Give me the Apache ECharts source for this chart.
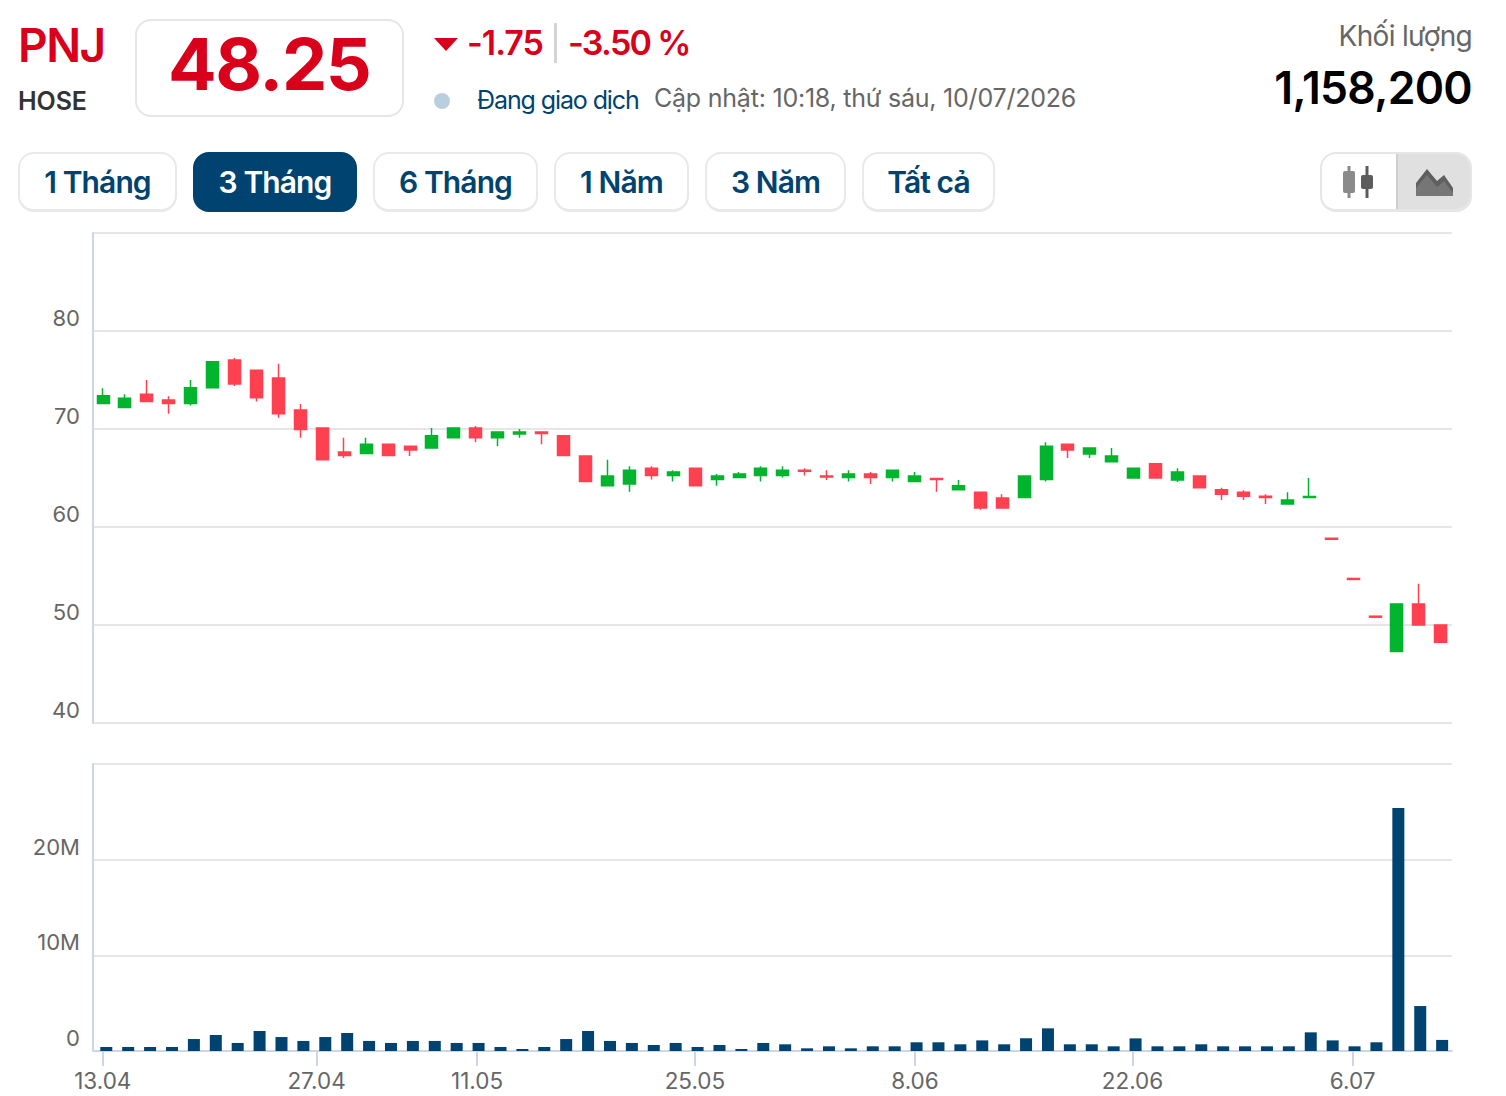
<!DOCTYPE html>
<html lang="vi">
<head>
<meta charset="utf-8">
<title>PNJ</title>
<script src="https://cdn.jsdelivr.net/npm/echarts@6/dist/echarts.min.js"></script>
<style>
  html, body { margin: 0; padding: 0; background: #fff; }
  #page { position: relative; width: 1506px; height: 1096px; overflow: hidden; font-family: Inter, "Noto Sans", sans-serif; }
  #chart { position: absolute; left: 0; top: 0; width: 1506px; height: 1096px; }
  .t { position: absolute; white-space: nowrap; line-height: 1; }
  .red { color: #d9001b; }
  .navy { color: #004370; }
  .box { position: absolute; box-sizing: border-box; border: 2px solid #e6e6e6; border-radius: 16px; background: #fff; }
  .btn { position: absolute; top: 152px; height: 60px; box-sizing: border-box; border: 2px solid #e9e9e9; border-bottom-width: 3px; border-radius: 16px;
         display: flex; align-items: center; justify-content: center; font-size: 30px; font-weight: 600; letter-spacing: -0.9px; color: #004370; background: #fff; }
  .btn.on { background: #004370; border-color: #004370; color: #fff; }
</style>
</head>
<body>
<div id="page">
  <div id="chart"></div>

  <div class="t red" style="left:18px;top:22px;font-size:46px;font-weight:600;letter-spacing:-1.5px">PNJ</div>
  <div class="t" style="left:18px;top:89px;font-size:25px;font-weight:600;letter-spacing:-0.1px;color:#333">HOSE</div>

  <div class="box" style="left:135px;top:19px;width:269px;height:98px"></div>
  <div class="t red" style="left:168px;top:28px;font-size:72px;font-weight:700;letter-spacing:-1.4px">48.25</div>

  <svg style="position:absolute;left:434px;top:38px" width="24" height="13"><path d="M0 0H24L12 13Z" fill="#d9001b"/></svg>
  <div class="t red" style="left:467px;top:26px;font-size:34px;font-weight:600;letter-spacing:-1px">-1.75</div>
  <div style="position:absolute;left:554px;top:23px;width:3px;height:40px;background:#d4d4d4"></div>
  <div class="t red" style="left:568px;top:26px;font-size:34px;font-weight:600;letter-spacing:-1.7px">-3.50 %</div>

  <div style="position:absolute;left:434px;top:93px;width:16px;height:16px;border-radius:50%;background:#b9cfdf"></div>
  <div class="t navy" style="left:477px;top:88px;font-size:25px;letter-spacing:-1.1px">Đang giao dịch</div>
  <div class="t" style="left:654px;top:86px;font-size:25px;letter-spacing:-0.22px;color:#666">Cập nhật: 10:18, thứ sáu, 10/07/2026</div>

  <div class="t" style="right:34px;top:22px;font-size:28px;letter-spacing:-0.7px;color:#666">Khối lượng</div>
  <div class="t" style="right:34px;top:66px;font-size:44.5px;font-weight:600;letter-spacing:-0.7px;color:#000">1,158,200</div>

  <div class="btn" style="left:18px;width:159px">1 Tháng</div>
  <div class="btn on" style="left:193px;width:164px">3 Tháng</div>
  <div class="btn" style="left:373px;width:165px">6 Tháng</div>
  <div class="btn" style="left:554px;width:135px">1 Năm</div>
  <div class="btn" style="left:705px;width:141px">3 Năm</div>
  <div class="btn" style="left:862px;width:133px">Tất cả</div>

  <div class="box" style="left:1320px;top:152px;width:152px;height:60px;border-bottom-width:3px;overflow:hidden">
    <div style="position:absolute;left:74px;top:-2px;width:78px;height:64px;background:#e0e0e0;border-left:2px solid #cfcfcf"></div>
    <svg style="position:absolute;left:19px;top:12px" width="34" height="32">
      <rect x="2" y="5" width="12" height="22" rx="2" fill="#8a8a8a"/><rect x="6.5" y="0" width="3" height="32" fill="#8a8a8a"/>
      <rect x="20" y="9" width="12" height="14" rx="2" fill="#5c5c5c"/><rect x="24.5" y="0" width="3" height="32" fill="#5c5c5c"/>
    </svg>
    <svg style="position:absolute;left:94px;top:14px" width="38" height="30">
      <path d="M0 28V15L11 1L21 13L28 7L37 20V28Z" fill="#5f5f5f"/>
      <path d="M0 28V20L11 7L21 19L28 13L37 25V28Z" fill="#767676"/>
    </svg>
  </div>
</div>

<script>
// Daily session quotes, oldest first (prices in thousand VND).
const opens = [72.6, 72.2, 73.55, 72.95, 72.6, 74.2, 77.05, 76, 75.2, 71.95, 70.1, 67.65, 67.5, 68.45, 68.25, 68.05,
  69.1, 70.1, 69.1, 69.5, 69.7, 69.3, 67.25, 64.2, 64.4, 66, 65.25, 66, 64.85, 65.05, 65.25, 65.25, 65.8, 65.2, 65.05, 65.4,
  65.05, 64.65, 64.95, 63.8, 63.55, 62.95, 63, 64.85, 68.45, 67.45, 66.65, 65, 66.45, 64.8, 65.2, 63.8, 63.55, 63.15, 62.35,
  63, 58.85, 54.75, 50.9, 47.3, 52.15, 50];
const closes = [73.4, 73.15, 72.8, 72.6, 74.2, 76.85, 74.6, 73.2, 71.55, 69.95, 66.85, 67.3, 68.45, 67.3, 67.85, 69.3,
  70.1, 69.1, 69.7, 69.7, 69.55, 67.3, 64.65, 65.2, 65.8, 65.25, 65.6, 64.2, 65.2, 65.4, 66, 65.8, 65.7, 65.1, 65.4, 65.05,
  65.8, 65.2, 64.85, 64.2, 61.95, 61.95, 65.2, 68.25, 67.85, 68.05, 67.25, 66, 65, 65.6, 64, 63.35, 63.15, 63, 62.75,
  63.1, 58.75, 54.65, 50.8, 52.15, 50, 48.25];
const lows = [72.6, 72.2, 72.8, 71.55, 72.4, 74.2, 74.4, 72.8, 71.15, 69.1, 66.85, 67.05, 67.5, 67.3, 67.25, 68.05,
  69.1, 68.65, 68.25, 69.1, 68.45, 67.3, 64.65, 64.2, 63.6, 64.85, 64.65, 64.2, 64.2, 65.05, 64.65, 65.05, 65.25, 64.8, 64.65, 64.4,
  64.65, 64.65, 63.6, 63.8, 61.75, 61.95, 63, 64.65, 67.05, 67.05, 66.65, 65, 65, 64.6, 64, 62.75, 62.75, 62.35, 62.35,
  63, 58.75, 54.65, 50.8, 47.3, 50, 48.25];
const highs = [74.15, 73.55, 75, 73.35, 75, 76.85, 77.25, 76, 76.65, 72.55, 70.1, 69.1, 69.1, 68.45, 68.25, 70.1,
  70.1, 70.3, 69.7, 70, 69.7, 69.3, 67.25, 66.85, 66.2, 66.2, 65.8, 66, 65.4, 65.6, 66.2, 66.2, 66, 65.8, 65.8, 65.6,
  65.8, 65.6, 64.95, 64.8, 63.55, 63.35, 65.2, 68.65, 68.45, 68.05, 68.05, 66, 66.45, 66, 65.2, 64, 63.75, 63.35, 63.55,
  65, 58.85, 54.75, 50.9, 52.15, 54.2, 50];
// Traded volume per session, in millions of shares.
const volumes = [0.42, 0.42, 0.42, 0.42, 1.25, 1.67, 0.84, 2.09, 1.46, 1.05, 1.46, 1.88, 1.05, 0.84, 1.05, 1.05,
  0.84, 0.84, 0.42, 0.21, 0.42, 1.25, 2.09, 1.05, 0.84, 0.63, 0.84, 0.42, 0.63, 0.21, 0.84, 0.7, 0.28, 0.49, 0.28, 0.49,
  0.49, 0.91, 0.91, 0.7, 1.11, 0.7, 1.32, 2.37, 0.7, 0.7, 0.49, 1.32, 0.49, 0.49, 0.7, 0.49, 0.49, 0.49, 0.49,
  1.95, 1.11, 0.49, 0.91, 25.4, 4.7, 1.1582];
// Date ticks, placed in session-index units along the volume panel's time axis.
const tickLabels = ['13.04', '27.04', '11.05', '25.05', '8.06', '22.06', '6.07'];
const tickIndexes = [-0.16, 9.6, 16.93, 26.88, 36.93, 46.86, 56.91];

const UP = '#00b42d', DOWN = '#ff4050', NAVY = '#004370';
const AXIS = '#ccd6eb', GRID = '#e6e6e6', TEXT = '#666';
// Session-index range of each panel; the volume panel runs slightly offset from the price panel.
const PRICE_X = [-0.456, 61.51];
const VOLUME_X = [-0.607, 61.45];

const candleData = opens.map((o, i) => [i, o, closes[i], lows[i], highs[i]]);
const volumeData = volumes.map((v, i) => [i, v]);

const yLabel = {
  color: TEXT, fontFamily: 'Inter', fontSize: 22, margin: 13,
  verticalAlign: 'bottom', lineHeight: 26, showMaxLabel: false
};
const yLine = { show: true, onZero: false, lineStyle: { color: AXIS, width: 2 } };
const ySplit = { lineStyle: { color: GRID, width: 2 } };

const chart = echarts.init(document.getElementById('chart'), null, { renderer: 'svg' });
chart.setOption({
  animation: false,
  backgroundColor: 'transparent',
  grid: [
    { left: 93, width: 1359, top: 233, height: 490 },
    { left: 93, width: 1359, top: 764, height: 287 }
  ],
  xAxis: [
    { gridIndex: 0, type: 'value', min: PRICE_X[0], max: PRICE_X[1], show: false, splitLine: { show: false } },
    {
      gridIndex: 1, type: 'value', min: VOLUME_X[0], max: VOLUME_X[1],
      splitLine: { show: false },
      axisLine: { show: true, onZero: false, lineStyle: { color: AXIS, width: 2 } },
      axisTick: { show: true, customValues: tickIndexes, length: 15, lineStyle: { color: AXIS, width: 2 } },
      axisLabel: {
        customValues: tickIndexes, color: TEXT, fontFamily: 'Inter', fontSize: 22.5, margin: 18,
        hideOverlap: false, showMinLabel: true, showMaxLabel: true,
        formatter: v => tickLabels[tickIndexes.indexOf(v)] || ''
      }
    }
  ],
  yAxis: [
    {
      gridIndex: 0, type: 'value', min: 40, max: 90, interval: 10,
      axisLine: yLine, axisTick: { show: false }, splitLine: ySplit, axisLabel: yLabel
    },
    {
      gridIndex: 1, type: 'value', min: 0, max: 30, interval: 10,
      axisLine: yLine, axisTick: { show: false }, splitLine: ySplit,
      axisLabel: Object.assign({}, yLabel, { formatter: v => (v ? v + 'M' : '0') })
    }
  ],
  series: [
    {
      type: 'candlestick', name: 'PNJ', xAxisIndex: 0, yAxisIndex: 0,
      data: candleData, encode: { x: 0, y: [1, 2, 3, 4] },
      barWidth: 12.5,
      itemStyle: { color: UP, color0: DOWN, borderColor: UP, borderColor0: DOWN, borderWidth: 1.5 }
    },
    {
      type: 'bar', name: 'Khối lượng', xAxisIndex: 1, yAxisIndex: 1,
      data: volumeData, barWidth: 12,
      itemStyle: { color: NAVY }
    }
  ]
});
</script>
</body>
</html>
